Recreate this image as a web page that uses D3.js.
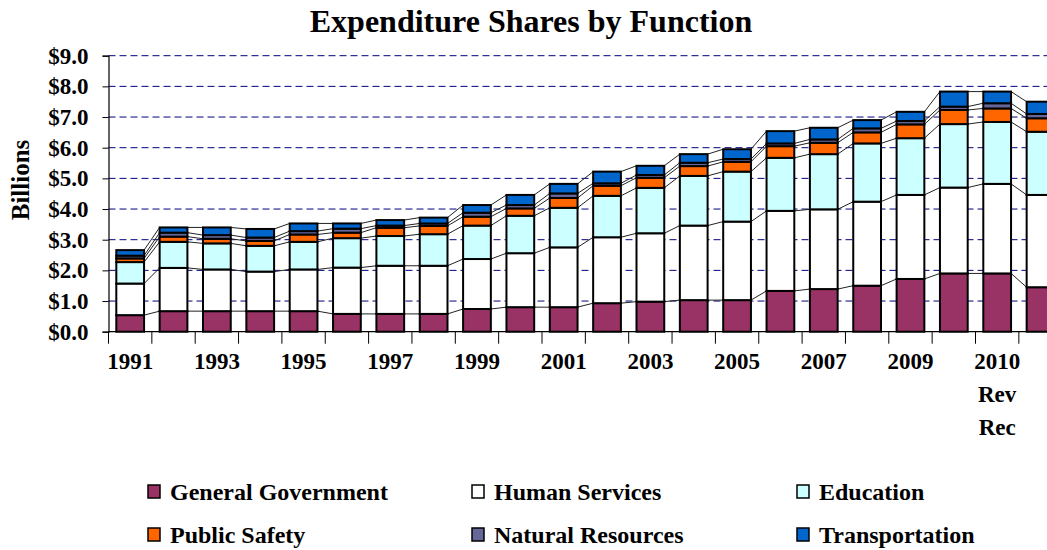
<!DOCTYPE html>
<html>
<head>
<meta charset="utf-8">
<script src="https://cdn.jsdelivr.net/npm/d3@7"></script>
<style>
body{margin:0;background:#fff;}
svg{display:block;font-family:"Liberation Serif","Times New Roman",serif;font-weight:bold;}
</style>
</head>
<body>
<div id="chart"></div>
<script>
// categories (x axis), only every other one gets a label
const years = ["1991","1992","1993","1994","1995","1996","1997","1998","1999","2000",
    "2001","2002","2003","2004","2005","2006","2007","2008","2009","2010",
    "2010 Rev Rec","2011 Rec"];

// values in billions
const generalGovernment = [0.54,0.67,0.67,0.67,0.67,0.58,0.58,0.58,0.74,0.80,0.80,0.93,0.98,1.03,1.03,1.33,1.39,1.50,1.72,1.90,1.90,1.45];
const humanServices     = [1.03,1.41,1.36,1.29,1.36,1.51,1.57,1.57,1.63,1.76,1.95,2.15,2.23,2.43,2.56,2.61,2.60,2.74,2.74,2.80,2.92,3.01];
const education         = [0.70,0.85,0.85,0.84,0.90,0.96,0.97,1.03,1.09,1.22,1.29,1.35,1.48,1.62,1.63,1.73,1.80,1.90,1.85,2.07,2.02,2.06];
const publicSafety      = [0.12,0.17,0.15,0.16,0.24,0.18,0.27,0.27,0.29,0.24,0.32,0.33,0.33,0.32,0.32,0.38,0.37,0.36,0.45,0.46,0.44,0.44];
const naturalResources  = [0.09,0.13,0.12,0.11,0.11,0.13,0.07,0.08,0.13,0.11,0.15,0.08,0.09,0.11,0.09,0.09,0.11,0.13,0.11,0.11,0.17,0.14];
const transportation    = [0.18,0.17,0.25,0.28,0.25,0.17,0.18,0.19,0.25,0.33,0.31,0.38,0.30,0.28,0.32,0.40,0.38,0.27,0.30,0.49,0.38,0.40];

const seriesNames = ["General Government","Human Services","Education","Public Safety","Natural Resources","Transportation"];
const seriesColors = ["#993366","#FFFFFF","#CCFFFF","#FF6600","#666699","#0066CC"];
const yTicks = [0,1,2,3,4,5,6,7,8,9];

const width = 1047, height = 550;
const margin = {left:108.5, top:55.7, bottom:331.7};

// table for d3.stack
const allSeries = [generalGovernment, humanServices, education, publicSafety, naturalResources, transportation];
const table = years.map((y, i) => {
    let row = {year: y};
    seriesNames.forEach((n, k) => row[n] = allSeries[k][i]);
    return row;
});
const stacked = d3.stack().keys(seriesNames)(table);

const svg = d3.select("#chart").append("svg")
    .attr("width", width)
    .attr("height", height)
    .attr("viewBox", [0, 0, width, height]);

const step = 43.35;
const xScale = d3.scaleBand()
    .domain(years)
    .range([margin.left, margin.left + step * years.length])
    .paddingInner(0.36)
    .paddingOuter(0.18);
const yScale = d3.scaleLinear()
    .domain([0, 9])
    .range([margin.bottom, margin.top]);

// title
svg.append("text")
    .attr("x", 531)
    .attr("y", 32)
    .attr("text-anchor", "middle")
    .attr("font-size", 32)
    .text("Expenditure Shares by Function");

// gridlines (dashed)
svg.append("g")
    .selectAll("line")
    .data(yTicks.filter(d => d > 0))
    .join("line")
    .attr("x1", margin.left)
    .attr("x2", width)
    .attr("y1", d => yScale(d))
    .attr("y2", d => yScale(d))
    .attr("stroke", "#000080")
    .attr("stroke-width", 1)
    .attr("stroke-dasharray", "7,4");

// y axis
const yAxis = svg.append("g")
    .attr("transform", `translate(${margin.left},0)`)
    .call(d3.axisLeft(yScale).tickValues(yTicks).tickSize(6).tickFormat(d => "$" + d3.format(".1f")(d)));
yAxis.select(".domain").attr("stroke", "#000").attr("stroke-width", 1.2);
yAxis.selectAll(".tick line").attr("stroke", "#000");
yAxis.selectAll(".tick text")
    .attr("x", -20)
    .attr("font-size", 23)
    .attr("font-family", "Liberation Serif, serif")
    .attr("font-weight", "bold")
    .attr("fill", "#000");

svg.append("text")
    .attr("transform", "translate(29,180) rotate(-90)")
    .attr("text-anchor", "middle")
    .attr("font-size", 25)
    .text("Billions");

// series lines between the bars
const bw = xScale.bandwidth();
stacked.forEach(layer => {
    let segs = [];
    for (let i = 0; i < layer.length - 1; i++) {
        segs.push([layer[i], layer[i + 1], i]);
    }
    svg.append("g")
        .selectAll("line")
        .data(segs)
        .join("line")
        .attr("x1", d => xScale(years[d[2]]) + bw)
        .attr("x2", d => xScale(years[d[2] + 1]))
        .attr("y1", d => yScale(d[0][1]))
        .attr("y2", d => yScale(d[1][1]))
        .attr("stroke", "#222")
        .attr("stroke-width", 1);
});

// bars
svg.append("g")
    .selectAll("g")
    .data(stacked)
    .join("g")
    .attr("fill", (d, i) => seriesColors[i])
    .selectAll("rect")
    .data(d => d)
    .join("rect")
    .attr("x", d => xScale(d.data.year))
    .attr("y", d => yScale(d[1]))
    .attr("height", d => yScale(d[0]) - yScale(d[1]))
    .attr("width", bw)
    .attr("stroke", "#000")
    .attr("stroke-width", 2);

// x axis: baseline and ticks at category boundaries
svg.append("line")
    .attr("x1", margin.left)
    .attr("x2", width)
    .attr("y1", yScale(0))
    .attr("y2", yScale(0))
    .attr("stroke", "#000")
    .attr("stroke-width", 1.2);
svg.append("g")
    .selectAll("line")
    .data(years)
    .join("line")
    .attr("x1", d => xScale(d) - xScale.step() * 0.18)
    .attr("x2", d => xScale(d) - xScale.step() * 0.18)
    .attr("y1", yScale(0))
    .attr("y2", yScale(0) + 12)
    .attr("stroke", "#000");

const xLabels = svg.append("g")
    .attr("font-size", 23)
    .attr("text-anchor", "middle")
    .selectAll("text")
    .data(years.filter((d, i) => i % 2 === 0))
    .join("text")
    .attr("x", d => xScale(d) + bw / 2)
    .attr("y", 369);
xLabels.selectAll("tspan")
    .data(d => d.split(" "))
    .join("tspan")
    .attr("x", function () { return d3.select(this.parentNode).attr("x"); })
    .attr("dy", (d, i) => i === 0 ? 0 : 33)
    .text(d => d);

// legend
const legendPos = [[148,492],[472,492],[797,492],[148,535],[472,535],[797,535]];
const legend = svg.append("g")
    .selectAll("g")
    .data(seriesNames)
    .join("g")
    .attr("transform", (d, i) => `translate(${legendPos[i][0]},${legendPos[i][1]})`);
legend.append("rect")
    .attr("x", 0)
    .attr("y", -7)
    .attr("width", 12)
    .attr("height", 13)
    .attr("fill", (d, i) => seriesColors[i])
    .attr("stroke", "#000")
    .attr("stroke-width", 1.5);
legend.append("text")
    .attr("x", 22)
    .attr("y", 0)
    .attr("dy", "0.35em")
    .attr("font-size", 24)
    .text(d => d);
</script>
</body>
</html>
